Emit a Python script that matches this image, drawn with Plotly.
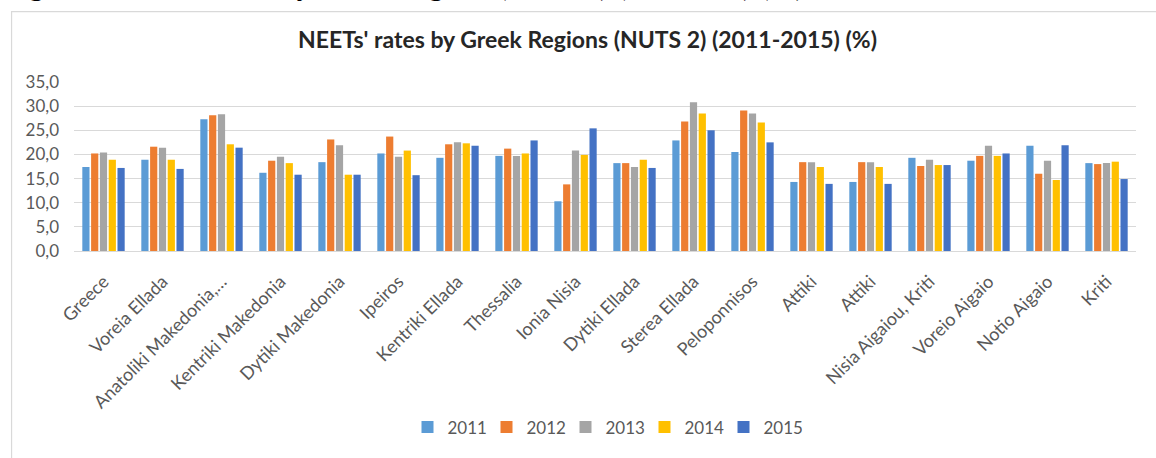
import plotly.graph_objects as go

regions = ["Greece", "Voreia Ellada", "Anatoliki Makedonia,…", "Kentriki Makedonia",
           "Dytiki Makedonia", "Ipeiros", "Kentriki Ellada", "Thessalia", "Ionia Nisia",
           "Dytiki Ellada", "Sterea Ellada", "Peloponnisos", "Attiki", "Attiki",
           "Nisia Aigaiou, Kriti", "Voreio Aigaio", "Notio Aigaio", "Kriti"]

years = ["2011", "2012", "2013", "2014", "2015"]

rate_2011 = [17.4, 18.9, 27.3, 16.2, 18.4, 20.2, 19.3, 19.7, 10.3, 18.2, 22.9, 20.5, 14.3, 14.3, 19.3, 18.7, 21.8, 18.2]
rate_2012 = [20.2, 21.6, 28.1, 18.7, 23.1, 23.7, 22.1, 21.2, 13.8, 18.2, 26.8, 29.1, 18.4, 18.4, 17.6, 19.7, 16.0, 18.0]
rate_2013 = [20.4, 21.4, 28.3, 19.5, 21.9, 19.5, 22.5, 19.7, 20.8, 17.4, 30.8, 28.5, 18.4, 18.4, 18.9, 21.8, 18.7, 18.2]
rate_2014 = [18.9, 18.9, 22.1, 18.2, 15.8, 20.8, 22.3, 20.2, 19.9, 18.9, 28.5, 26.6, 17.4, 17.4, 17.8, 19.7, 14.7, 18.5]
rate_2015 = [17.2, 17.0, 21.4, 15.8, 15.8, 15.7, 21.8, 22.9, 25.4, 17.2, 25.0, 22.5, 13.9, 13.9, 17.8, 20.2, 21.9, 14.9]

y_ticks = [0, 5, 10, 15, 20, 25, 30, 35]
y_tick_labels = ["0,0", "5,0", "10,0", "15,0", "20,0", "25,0", "30,0", "35,0"]

series = [rate_2011, rate_2012, rate_2013, rate_2014, rate_2015]
colors = ["#5B9BD5", "#ED7D31", "#A5A5A5", "#FFC000", "#4472C4"]

W, H = 1156, 458
ML, MR, MT, MB = 73.5, 19.5, 82.3, 199.7
PW, PH = W - ML - MR, H - MT - MB


def px_x(px):
    return (px - ML) / PW


def px_y(py):
    return (H - MB - py) / PH


FONT = "Lato"
GREY = "#595959"

fig = go.Figure()
positions = list(range(len(regions)))
for name, vals, col in zip(years, series, colors):
    fig.add_trace(go.Bar(x=positions, y=vals, name=name, marker=dict(color=col, line=dict(width=0))))

fig.update_layout(
    width=W, height=H,
    margin=dict(l=ML, r=MR, t=MT, b=MB, pad=0),
    paper_bgcolor="white", plot_bgcolor="white",
    barmode="group", bargap=0.255, bargroupgap=0.18,
    font=dict(family=FONT, color=GREY, size=17),
    showlegend=True,
    legend=dict(orientation="h", x=0.5, xanchor="center", y=px_y(442), yanchor="middle",
                font=dict(family=FONT, size=17, color=GREY), itemwidth=30,
                traceorder="normal", entrywidth=34, entrywidthmode="pixels"),
    xaxis=dict(tickmode="array", tickvals=positions, ticktext=regions, tickangle=-45,
               range=[-0.5, len(regions) - 0.5], showgrid=False, zeroline=False,
               showline=True, linecolor="#D9D9D9", linewidth=1, ticks="",
               ticklabelstandoff=12,
               tickfont=dict(family=FONT, size=18, color=GREY)),
    yaxis=dict(range=[0, 35], tickmode="array", tickvals=y_ticks, ticktext=y_tick_labels,
               showgrid=True, gridcolor="#D9D9D9", gridwidth=1, zeroline=False,
               showline=False, ticks="", ticklen=0, ticklabelstandoff=14,
               tickfont=dict(family=FONT, size=17, color=GREY)),
    title=dict(text="<b>NEETs' rates by Greek Regions (NUTS 2) (2011-2015) (%)</b>",
               x=587.5 / W, xanchor="center",
               y=1 - 40 / H, yanchor="middle",
               font=dict(family=FONT, size=23, color="#262626")),
)

# chart frame
fig.add_shape(type="rect", xref="paper", yref="paper",
              x0=px_x(11), x1=px_x(1170), y0=px_y(475), y1=px_y(9),
              line=dict(color="#D9D9D9", width=1.2), fillcolor="rgba(0,0,0,0)", layer="below")

# document caption above the chart
fig.add_annotation(text="<b>Figure 3: NEETs' rates by Greek Regions (NUTS 2) (2011-2015) (%)</b>",
                   xref="paper", yref="paper", x=px_x(2), y=px_y(0.5), xanchor="left", yanchor="bottom",
                   showarrow=False, font=dict(family="Liberation Serif", size=27.5, color="black"))

fig.write_html("out.html")
